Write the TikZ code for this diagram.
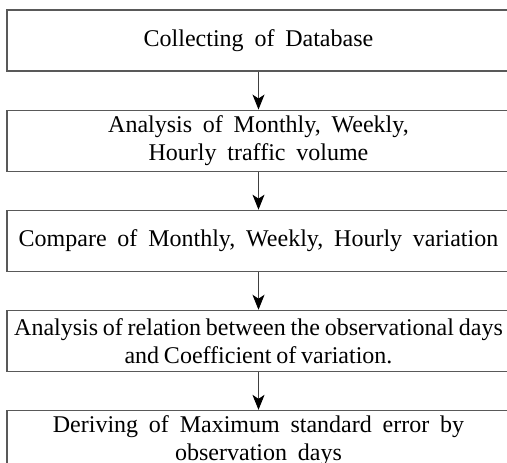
\documentclass[tikz,border=0pt]{standalone}
\usepackage{fontspec}
\setmainfont{Liberation Serif}
\usetikzlibrary{arrows.meta, positioning}

\newcommand{\stagefont}[1]{\fontsize{24}{28}\selectfont\spaceskip=#1em plus 0.1em minus 0.1em\relax}

\begin{document}
\begin{tikzpicture}[
    x=1pt, y=-1pt,
    node distance=38pt,
    stagebox/.style={rectangle, draw=black!65, line width=1.1pt, minimum width=503pt, minimum height=61pt, inner xsep=2pt, align=center, font=\stagefont{0.45}},
    arrow/.style={-{Stealth[length=15pt, width=12pt, inset=4pt, color=black]}, line width=0.9pt, black!75}
]
\clip (0,0) rectangle (507,463);

% === Flow stages ===
\node[stagebox] (collect) at (258.5,40.5) {Collecting of Database};
\node[stagebox, below=of collect] (analysis) {Analysis of Monthly, Weekly,\\Hourly traffic volume};
\node[stagebox, below=of analysis] (compare) {Compare of Monthly, Weekly, Hourly variation};
\node[stagebox, below=of compare, font=\stagefont{0.2}] (relation) {Analysis of relation between the observational days\\and Coefficient of variation.};
\node[stagebox, below=of relation] (deriving) {Deriving of Maximum standard error by\\observation days};

% === Arrows ===
\draw[arrow] (collect) -- (analysis);
\draw[arrow] (analysis) -- (compare);
\draw[arrow] (compare) -- (relation);
\draw[arrow] (relation) -- (deriving);

\end{tikzpicture}
\end{document}
